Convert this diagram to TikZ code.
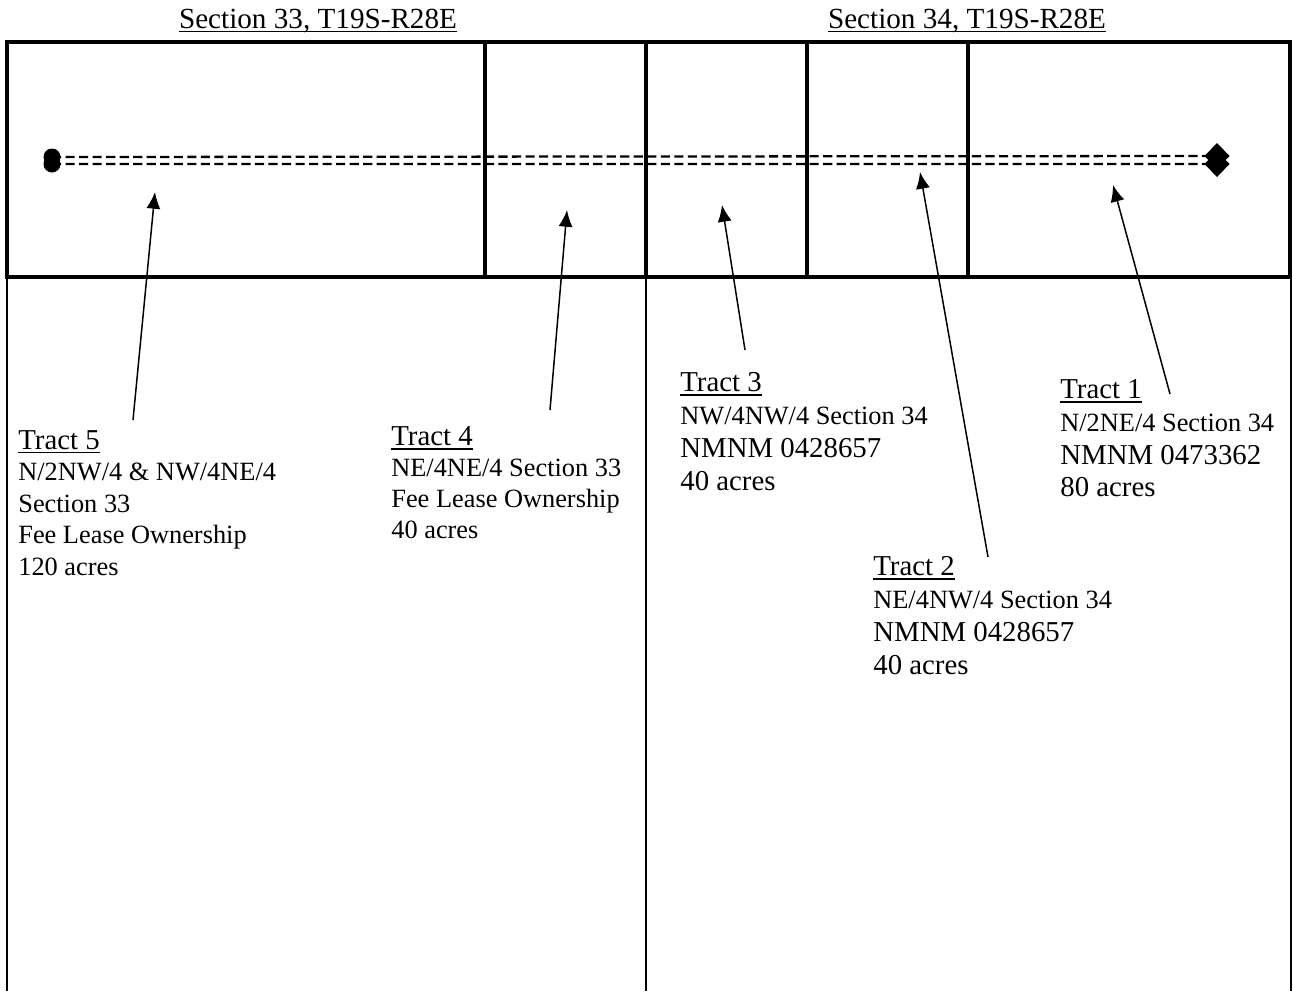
\documentclass[tikz,border=0pt]{standalone}
\usepackage{fontspec}
\setmainfont{Liberation Serif}
\usetikzlibrary{arrows.meta,calc}

\newcommand\tractul[1]{\setbox0\hbox{#1}\rlap{\rule[-2.4pt]{\wd0}{0.9pt}}\box0}
\newcommand\bigsize{\fontsize{16.4}{18.7}\selectfont}

\begin{document}
\begin{tikzpicture}[x=0.02cm,y=0.02cm,
  strip/.style={line width=2.3pt},
  side/.style={line width=1.1pt},
  pipe/.style={line width=1.3pt,dash pattern=on 5.2pt off 2.5pt},
  pointer/.style={line width=0.85pt,-{Latex[length=9.5pt,width=8pt]}},
  heading/.style={anchor=base,inner sep=0pt,font=\fontsize{16.6}{20}\selectfont},
  tract/.style={anchor=north west,inner sep=0pt,align=left,font=\fontsize{15}{18.7}\selectfont}]

        \useasboundingbox (0,0) rectangle (1293,-991);

        \node[heading] (S33) at (318,-28) {\tractul{Section 33, T19S-R28E}};
        \node[heading] (S34) at (967,-28) {\tractul{Section 34, T19S-R28E}};

        % the tracts along the strip
        \draw[strip] (7,-42) rectangle (1290,-277);
        \foreach \x in {485,646,807,968} \draw[strip] (\x,-42) -- (\x,-277);
        \draw[side] (7,-277) -- (7,-991) (646,-277) -- (646,-991) (1291,-277) -- (1291,-991);

        % pipeline
        \coordinate (W1) at (52,-157);
        \coordinate (W2) at (52,-164);
        \coordinate (E1) at (1217,-156);
        \coordinate (E2) at (1217,-164);
        \draw[pipe] (W1) -- (E1) (W2) -- (E2);
        \fill (W1) circle (8.5) (W2) circle (8.5);
        \foreach \p in {E1,E2}
          \fill (\p) ++(0,13) -- ++(12.5,-13) -- ++(-12.5,-13) -- ++(-12.5,13) -- cycle;

        \node[tract,font=\fontsize{15}{17.9}\selectfont] (T5) at (18,-430)
          {{\bigsize\tractul{Tract 5}}\\N/2NW/4 \& NW/4NE/4\\Section 33\\Fee Lease Ownership\\120 acres};
        \node[tract,font=\fontsize{15}{17.7}\selectfont] (T4) at (391,-426)
          {{\bigsize\tractul{Tract 4}}\\NE/4NE/4 Section 33\\Fee Lease Ownership\\40 acres};
        \node[tract] (T3) at (680,-372)
          {{\bigsize\tractul{Tract 3}}\\NW/4NW/4 Section 34\\{\bigsize NMNM 0428657}\\{\bigsize 40 acres}};
        \node[tract] (T1) at (1060,-379)
          {{\bigsize\tractul{Tract 1}}\\N/2NE/4 Section 34\\{\bigsize NMNM 0473362}\\{\bigsize 80 acres}};
        \node[tract] (T2) at (873,-556)
          {{\bigsize\tractul{Tract 2}}\\NE/4NW/4 Section 34\\{\bigsize NMNM 0428657}\\{\bigsize 40 acres}};

        \coordinate (t5) at (133,-420);  \coordinate (h5) at (155,-192);
        \coordinate (t4) at (550,-410);  \coordinate (h4) at (567,-210);
        \coordinate (t3) at (745,-350);  \coordinate (h3) at (722,-205);
        \coordinate (t2) at (988,-557);  \coordinate (h2) at (920,-172);
        \coordinate (t1) at (1170,-394); \coordinate (h1) at (1113,-185);
        \foreach \n in {1,...,5} \draw[pointer] (t\n) -- (h\n);
      \end{tikzpicture}
\end{document}
